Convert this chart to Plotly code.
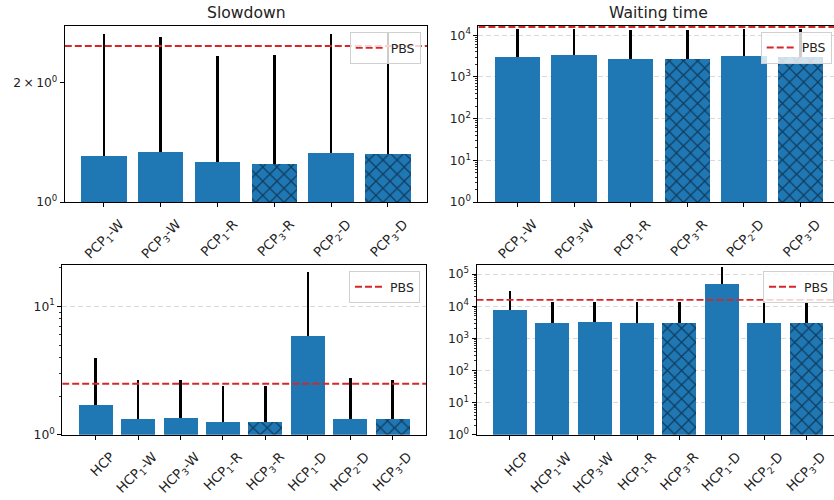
import plotly.graph_objects as go

FONT = "DejaVu Sans"
BLUE = "#1f77b4"
RED = "#d62728"
TXT = "#222222"

# ---------------- data ----------------
pcp_labels = ["PCP<sub>1</sub>-W", "PCP<sub>3</sub>-W", "PCP<sub>1</sub>-R",
              "PCP<sub>3</sub>-R", "PCP<sub>2</sub>-D", "PCP<sub>3</sub>-D"]
pcp_hatched = [False, False, False, True, False, True]
pcp_slowdown = [1.31, 1.34, 1.26, 1.25, 1.33, 1.32]
pcp_slowdown_err = [1.34, 1.26, 1.07, 1.10, 1.32, 1.35]
pcp_wait = [3040, 3390, 2720, 2750, 3200, 3040]
pcp_wait_err = [11160, 10810, 10480, 10450, 11000, 11160]

hcp_labels = ["HCP", "HCP<sub>1</sub>-W", "HCP<sub>3</sub>-W", "HCP<sub>1</sub>-R",
              "HCP<sub>3</sub>-R", "HCP<sub>1</sub>-D", "HCP<sub>2</sub>-D", "HCP<sub>3</sub>-D"]
hcp_hatched = [False, False, False, False, True, False, False, True]
hcp_slowdown = [1.70, 1.33, 1.35, 1.26, 1.26, 5.93, 1.33, 1.33]
hcp_slowdown_err = [2.29, 1.36, 1.34, 1.13, 1.13, 12.67, 1.46, 1.36]
hcp_wait = [7870, 3070, 3290, 2925, 2925, 50400, 3070, 3070]
hcp_wait_err = [22830, 10730, 10510, 10875, 10875, 113600, 11830, 10730]

pbs_slowdown_pcp = 2.47
pbs_slowdown_hcp = 2.50
pbs_wait = 15800

panel_titles = ["Slowdown", "Waiting time"]

# ---------------- layout helpers ----------------
W, H = 834, 500


def px(xp):
    return xp / W


def py(yp):
    return 1 - yp / H


def sup(e):
    return "10<sup>%d</sup>" % e


panels = [
    dict(labels=pcp_labels, vals=pcp_slowdown, err=pcp_slowdown_err, hatch=pcp_hatched,
         pbs=pbs_slowdown_pcp, xdom=[px(64.8), px(427)], ydom=[py(205), py(26)],
         xr=[-0.69, 5.69], yr=[0, 0.444], shift=16, ymirror=True,
         tickvals=[1, 2], ticktext=[sup(0), "2\u2009\u00d7\u200910<sup>0</sup>"],
         minor=[], grid=False,
         leg=dict(x=px(420.7), y=py(32.7), xanchor="right")),
    dict(labels=pcp_labels, vals=pcp_wait, err=pcp_wait_err, hatch=pcp_hatched,
         pbs=pbs_wait, xdom=[px(478.4), 1.0], ydom=[py(205), py(26)],
         xr=[-0.69, 5.59], yr=[0, 4.23], shift=16, ymirror=False,
         tickvals=[10 ** k for k in range(5)], ticktext=[sup(k) for k in range(5)],
         minor=[m * 10 ** k for k in range(4) for m in range(2, 10)], grid=True,
         leg=dict(x=px(760.7), y=py(32.3), xanchor="left")),
    dict(labels=hcp_labels, vals=hcp_slowdown, err=hcp_slowdown_err, hatch=hcp_hatched,
         pbs=pbs_slowdown_hcp, xdom=[px(62.2), px(426.2)], ydom=[py(441), py(269)],
         xr=[-0.79, 7.79], yr=[0, 1.32], shift=15, ymirror=True,
         tickvals=[1, 10], ticktext=[sup(0), sup(1)],
         minor=[2, 3, 4, 5, 6, 7, 8, 9, 20], grid=True,
         leg=dict(x=px(420), y=py(275), xanchor="right")),
    dict(labels=hcp_labels, vals=hcp_wait, err=hcp_wait_err, hatch=hcp_hatched,
         pbs=pbs_wait, xdom=[px(476.5), 1.0], ydom=[py(441), py(268.3)],
         xr=[-0.79, 7.65], yr=[0, 5.297], shift=15, ymirror=False,
         tickvals=[10 ** k for k in range(6)], ticktext=[sup(k) for k in range(6)],
         minor=[m * 10 ** k for k in range(5) for m in range(2, 10)], grid=True,
         leg=dict(x=px(763), y=py(275), xanchor="left")),
]

fig = go.Figure()
layout = dict(
    width=W, height=H, margin=dict(l=0, r=0, t=0, b=0),
    paper_bgcolor="white", plot_bgcolor="white",
    font=dict(family=FONT, size=12.5, color=TXT),
    bargap=0,
)

for i, p in enumerate(panels):
    idx = "" if i == 0 else str(i + 1)
    xa, ya = "x" + idx, "y" + idx
    legname = "legend" + idx
    n = len(p["vals"])
    xs = list(range(n))
    fig.add_trace(go.Bar(
        x=xs, y=p["vals"], width=0.8, xaxis=xa, yaxis=ya, showlegend=False,
        marker=dict(color=BLUE, line=dict(width=0),
                    pattern=dict(shape=["x" if h else "" for h in p["hatch"]],
                                 fillmode="overlay", fgcolor="black",
                                 size=10, solidity=0.22)),
        error_y=dict(type="data", symmetric=False, array=p["err"], arrayminus=[0] * n,
                     color="black", thickness=2.5, width=0),
    ))
    fig.add_trace(go.Scatter(
        x=p["xr"], y=[p["pbs"], p["pbs"]], mode="lines", name="PBS",
        line=dict(color=RED, width=1.9, dash="7px,3px"),
        xaxis=xa, yaxis=ya, legend=legname, showlegend=True, cliponaxis=True,
    ))
    layout["xaxis" + idx] = dict(
        domain=p["xdom"], range=p["xr"], anchor=ya, tickmode="array",
        tickvals=xs, ticktext=p["labels"], tickangle=-45, ticks="outside",
        ticklen=4, tickwidth=1, tickcolor="black", showline=True, linecolor="black",
        linewidth=1, mirror=True, showgrid=False, zeroline=False,
        ticklabelshift=p["shift"], ticklabelstandoff=4,
        tickfont=dict(family=FONT, size=13.3, color=TXT),
    )
    layout["yaxis" + idx] = dict(
        type="log", domain=p["ydom"], range=p["yr"], anchor=xa, tickmode="array",
        tickvals=p["tickvals"], ticktext=p["ticktext"], ticks="outside", ticklen=4,
        tickwidth=1, tickcolor="black", showline=True, linecolor="black", linewidth=1,
        mirror=p["ymirror"], showgrid=p["grid"], gridcolor="#cfcfcf", gridwidth=0.8,
        griddash="5px,3px", zeroline=False,
        minor=dict(tickmode="array", tickvals=p["minor"], ticks="outside", ticklen=2,
                   tickwidth=0.8, tickcolor="black", showgrid=False),
        tickfont=dict(family=FONT, size=12.3, color=TXT),
    )
    leg = p["leg"]
    layout[legname] = dict(
        x=leg["x"], y=leg["y"], xanchor=leg["xanchor"], yanchor="top",
        bgcolor="rgba(255,255,255,0.8)", bordercolor="#d0d0d0", borderwidth=1,
        font=dict(family=FONT, size=12.5, color=TXT), itemwidth=30,
        tracegroupgap=0,
    )

layout["annotations"] = [
    dict(text=panel_titles[0], xref="paper", yref="paper", x=px(246), y=py(13),
         xanchor="center", yanchor="middle", showarrow=False,
         font=dict(family=FONT, size=15.6, color=TXT)),
    dict(text=panel_titles[1], xref="paper", yref="paper", x=px(658.5), y=py(13),
         xanchor="center", yanchor="middle", showarrow=False,
         font=dict(family=FONT, size=15.6, color=TXT)),
]

fig.update_layout(**layout)
# remove the browser's default 8px body margin so the figure sits at the page origin
fig.write_html("out.html", config={"displayModeBar": False, "staticPlot": True},
               post_script="document.body.style.margin='0px';")
